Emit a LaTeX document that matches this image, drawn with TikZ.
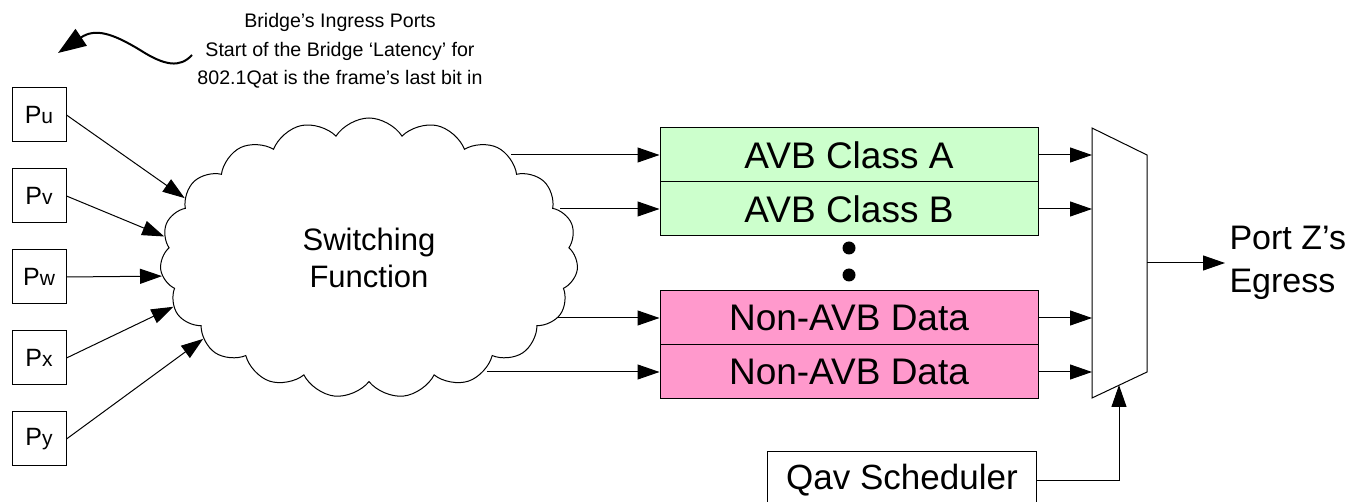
\documentclass[tikz,border=0pt]{standalone}
\usepackage{fontspec}
\setmainfont{Liberation Sans}
\usetikzlibrary{shapes.symbols,arrows.meta}

\definecolor{avbgreen}{RGB}{204,255,204}
\definecolor{nonavbpink}{RGB}{255,153,204}

\newcommand{\bigfont}{\fontsize{18.5}{21}\selectfont}
\newcommand{\subfont}{\fontsize{10.5}{10.5}\selectfont}

\begin{document}
\begin{tikzpicture}[x=0.5pt,y=-0.5pt,line width=0.5pt,
  >={Triangle[length=11pt,width=7.5pt]},
  port/.style={draw,minimum width=27pt,minimum height=27pt,inner sep=0pt,
    font=\fontsize{12.5}{13}\selectfont},
  queue/.style={draw,minimum width=189pt,minimum height=27pt,inner sep=0pt,
    font=\bigfont}]
\useasboundingbox (0,0) rectangle (1356,502);

% ingress ports
\foreach \name/\y in {u/115,v/196,w/277,x/358,y/439}
  \node[port] (p\name) at (39,\y) {P{\subfont \name}};

\node[cloud,draw,cloud puffs=19,cloud puff arc=115,cloud ignores aspect,
  minimum width=209pt,minimum height=140pt,align=center,
  font=\fontsize{15.5}{18.5}\selectfont]
  (sw) at (369,258) {Switching\\Function};

\foreach \name/\ang in {u/162,v/174,w/185,x/194,y/206}
  \draw[->] (p\name.east) -- (sw.\ang);

\node[align=center,font=\fontsize{9.8}{14.25}\selectfont]
  (note) at (340,51) {Bridge’s Ingress Ports\\Start of the Bridge ‘Latency’ for\\802.1Qat is the frame’s last bit in};
\coordinate (wave) at (192,55);
\draw[line width=1pt,-{Triangle[length=14pt,width=10pt]}]
  (wave) .. controls (180,68) and (165,66) .. (140,50)
  .. controls (112,33) and (95,28) .. (58,53);

% queues
\node[queue,fill=avbgreen] (qa) at (849,155) {AVB Class A};
\node[queue,fill=avbgreen] (qb) at (849,209) {AVB Class B};
\node[queue,fill=nonavbpink] (qc) at (849,318) {Non-AVB Data};
\node[queue,fill=nonavbpink] (qd) at (849,372) {Non-AVB Data};

\fill (849,248) circle (3.25pt);
\fill (849,275) circle (3.25pt);

\foreach \q/\ang in {qa/35,qb/14,qc/342,qd/317}
  \draw[->] (\q.west -| sw.\ang) -- (\q.west);

% selector
\draw (1092,128) coordinate (mtl) -- (1147,155) -- (1147,372) -- (1092,398) -- cycle;
\coordinate (mout) at (1147,263);
\coordinate (mbot) at (1119,385);

\foreach \q in {qa,qb,qc,qd}
  \draw[->] (\q.east) -- (\q.east -| mtl);

\node[anchor=west,inner sep=2pt,align=left,font=\fontsize{17}{21.5}\selectfont]
  (egress) at (1225,263) {Port Z’s\\Egress};
\draw[->] (mout) -- (egress.west);

\node[draw,minimum width=134.5pt,minimum height=28pt,inner sep=0pt,
  font=\fontsize{17.5}{20}\selectfont]
  (qav) at (902,480) {Qav Scheduler};
\draw[->] (qav.east) -| (mbot);

\end{tikzpicture}
\end{document}
